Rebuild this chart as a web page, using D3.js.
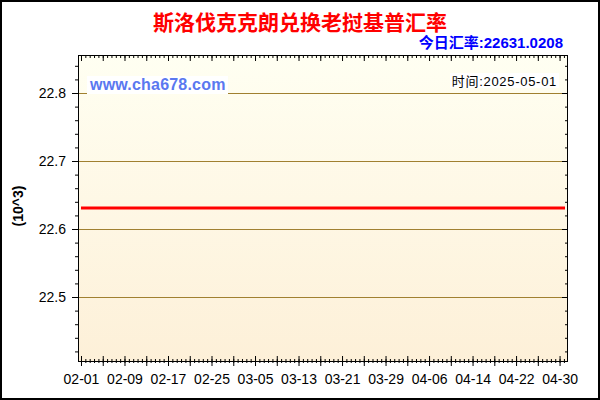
<!DOCTYPE html>
<meta charset="utf-8">
<style>

body {
  margin: 0;
}

svg {
  display: block;
  font-family: "Liberation Sans", Arial, "Noto Sans CJK SC", sans-serif;
}

.axis text {
  font-size: 14px;
  fill: #000;
}

.grid {
  stroke: #a08030;
  stroke-width: 1;
}

</style>
<svg width="600" height="400"></svg>
<script src="https://d3js.org/d3.v7.min.js"></script>
<script>

var title = "斯洛伐克克朗兑换老挝基普汇率",
    todayRate = "22631.0208",
    updated = "2025-05-01",
    site = "www.cha678.com",
    unit = "(10^3)";

var xTickLabels = ["02-01", "02-09", "02-17", "02-25", "03-05", "03-13",
                   "03-21", "03-29", "04-06", "04-14", "04-22", "04-30"];

var yTicks = [22.5, 22.6, 22.7, 22.8];

// daily rate 02-01 .. 05-01 (flat in the picture)
var rates = [
  22631.02, 22631.02, 22631.02, 22631.02, 22631.02, 22631.02, 22631.02, 22631.02, 22631.02, 22631.02,
  22631.02, 22631.02, 22631.02, 22631.02, 22631.02, 22631.02, 22631.02, 22631.02, 22631.02, 22631.02,
  22631.02, 22631.02, 22631.02, 22631.02, 22631.02, 22631.02, 22631.02, 22631.02, 22631.02, 22631.02,
  22631.02, 22631.02, 22631.02, 22631.02, 22631.02, 22631.02, 22631.02, 22631.02, 22631.02, 22631.02,
  22631.02, 22631.02, 22631.02, 22631.02, 22631.02, 22631.02, 22631.02, 22631.02, 22631.02, 22631.02,
  22631.02, 22631.02, 22631.02, 22631.02, 22631.02, 22631.02, 22631.02, 22631.02, 22631.02, 22631.02,
  22631.02, 22631.02, 22631.02, 22631.02, 22631.02, 22631.02, 22631.02, 22631.02, 22631.02, 22631.02,
  22631.02, 22631.02, 22631.02, 22631.02, 22631.02, 22631.02, 22631.02, 22631.02, 22631.02, 22631.02,
  22631.02, 22631.02, 22631.02, 22631.02, 22631.02, 22631.02, 22631.02, 22631.02, 22631.02, 22631.02
];

var svg = d3.select("svg"),
    margin = {top: 55, right: 32, bottom: 39, left: 78},
    width = +svg.attr("width") - margin.left - margin.right,
    height = +svg.attr("height") - margin.top - margin.bottom;

var x = d3.scaleLinear().domain([-0.55, 89.55]).range([0, width]),
    y = d3.scaleLinear().domain([22.4059, 22.8559]).range([height, 0]);

var defs = svg.append("defs");
var grad = defs.append("linearGradient")
    .attr("id", "bg")
    .attr("x1", 0).attr("y1", 0).attr("x2", 0).attr("y2", 1);
grad.append("stop").attr("offset", "0%").attr("stop-color", "#fffff2");
grad.append("stop").attr("offset", "100%").attr("stop-color", "#fdf0d8");

// outer border
svg.append("rect")
    .attr("x", 1).attr("y", 1)
    .attr("width", 598).attr("height", 398)
    .attr("fill", "#fff")
    .attr("stroke", "#000")
    .attr("stroke-width", 2);

svg.append("text")
    .attr("x", 300)
    .attr("y", 30)
    .attr("text-anchor", "middle")
    .attr("fill", "#ff0000")
    .style("font-family", "'Noto Sans CJK SC', sans-serif")
    .style("font-size", "21px")
    .style("font-weight", "bold")
    .text(title);

svg.append("text")
    .attr("x", 563)
    .attr("y", 48)
    .attr("text-anchor", "end")
    .attr("fill", "#0000ff")
    .style("font-size", "15px")
    .style("font-weight", "bold")
    .text("今日汇率:" + todayRate);

svg.append("text")
    .attr("transform", "translate(23,206) rotate(-90)")
    .attr("text-anchor", "middle")
    .style("font-size", "14px")
    .style("font-weight", "bold")
    .text(unit);

var g = svg.append("g")
    .attr("transform", "translate(" + margin.left + "," + margin.top + ")");

g.append("rect")
    .attr("width", width)
    .attr("height", height)
    .attr("fill", "url(#bg)");

g.selectAll(".grid")
  .data(yTicks)
  .enter().append("line")
    .attr("class", "grid")
    .attr("x1", 0)
    .attr("x2", width)
    .attr("y1", function(d) { return Math.round(y(d)) + 0.5; })
    .attr("y2", function(d) { return Math.round(y(d)) + 0.5; });

// label boxes inside the plot
g.append("rect")
    .attr("x", 9).attr("y", 21)
    .attr("width", 141).attr("height", 18)
    .attr("fill", "#fff");

g.append("text")
    .attr("x", 12)
    .attr("y", 35)
    .attr("fill", "#5a78f0")
    .style("font-size", "16px")
    .style("font-weight", "bold")
    .style("letter-spacing", "0.2px")
    .text(site);

g.append("rect")
    .attr("x", 372).attr("y", 18)
    .attr("width", 109).attr("height", 15)
    .attr("fill", "#fff");

g.append("text")
    .attr("x", 479)
    .attr("y", 31)
    .attr("text-anchor", "end")
    .attr("fill", "#000")
    .style("font-size", "13px")
    .style("letter-spacing", "0.7px")
    .text("时间:" + updated);

var line = d3.line()
    .x(function(d, i) { return x(i); })
    .y(function(d) { return y(d / 1000); });

g.append("path")
    .datum(rates)
    .attr("fill", "none")
    .attr("stroke", "#ff0000")
    .attr("stroke-width", 3)
    .attr("d", line);

// tick values
var yMinor = d3.range(2242, 2286, 2).map(function(v) { return v / 100; }),
    xMinor = d3.range(0, 112).map(function(i) { return i * 0.8; }),
    xMajor = d3.range(0, 89, 4),
    xLabels = d3.range(0, 89, 8);

function plain(axis, values, size) {
  return axis.tickValues(values).tickSize(size).tickFormat("");
}

// left
g.append("g").attr("class", "axis").call(plain(d3.axisLeft(y), yMinor, 3));
g.append("g").attr("class", "axis")
    .call(d3.axisLeft(y).tickValues(yTicks).tickSize(6).tickPadding(6).tickFormat(d3.format(".1f")));

// right (ticks inside)
g.append("g").attr("class", "axis").attr("transform", "translate(" + width + ",0)")
    .call(plain(d3.axisLeft(y), yMinor, 3));
g.append("g").attr("class", "axis").attr("transform", "translate(" + width + ",0)")
    .call(plain(d3.axisLeft(y), yTicks, 6));

// top (ticks inside)
g.append("g").attr("class", "axis").call(plain(d3.axisBottom(x), xMinor, 3));
g.append("g").attr("class", "axis").call(plain(d3.axisBottom(x), xMajor, 6));

// bottom (ticks cross the line)
g.append("g").attr("class", "axis").attr("transform", "translate(0," + height + ")")
    .call(plain(d3.axisBottom(x), xMinor, 2))
  .selectAll(".tick line").attr("y1", -2);
g.append("g").attr("class", "axis").attr("transform", "translate(0," + height + ")")
    .call(plain(d3.axisBottom(x), xMajor, 5))
  .selectAll(".tick line").attr("y1", -5);
g.append("g").attr("class", "axis").attr("transform", "translate(0," + height + ")")
    .call(d3.axisBottom(x).tickValues(xLabels).tickSize(0).tickPadding(13)
      .tickFormat(function(d, i) { return xTickLabels[i]; }));

g.selectAll(".axis .domain").remove();

// frame
g.append("rect")
    .attr("x", 0.5).attr("y", 0.5)
    .attr("width", width - 1).attr("height", height)
    .attr("fill", "none")
    .attr("stroke", "#000");

</script>
